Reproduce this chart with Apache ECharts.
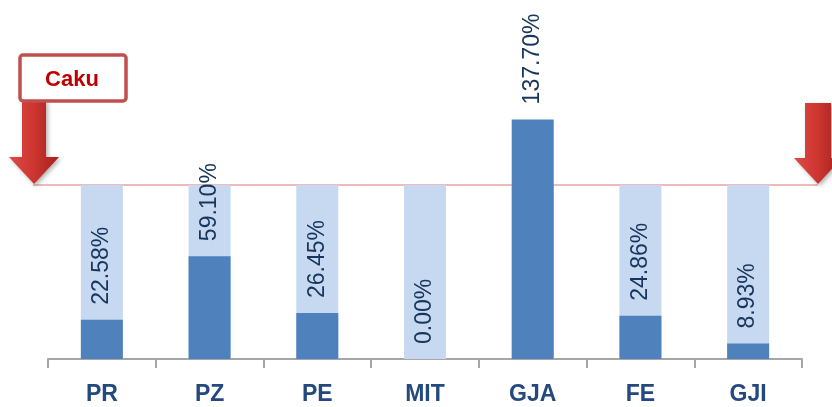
<!DOCTYPE html>
<html>
<head>
<meta charset="utf-8">
<script src="https://cdn.jsdelivr.net/npm/echarts@6/dist/echarts.min.js"></script>
<style>
html,body{margin:0;padding:0;background:#fff;}
#c{width:832px;height:407px;}
</style>
</head>
<body>
<div id="c"></div>
<script>
const categories = ['PR', 'PZ', 'PE', 'MIT', 'GJA', 'FE', 'GJI'];
const values = [22.58, 59.10, 26.45, 0.00, 137.70, 24.86, 8.93];
const targetValues = [100, 100, 100, 100, 100, 100, 100];
const targetLevel = 100;
const targetLabel = 'Caku';

const chart = echarts.init(document.getElementById('c'), null, {renderer: 'canvas'});
const FONT = 'Liberation Sans';

const option = {
  animation: false,
  grid: {left: 48, right: 30, top: 11, bottom: 48, containLabel: false},
  xAxis: {
    type: 'category',
    data: categories,
    axisLine: {show: true, lineStyle: {color: '#a6a6a6', width: 2}},
    axisTick: {show: true, length: 9, alignWithLabel: false, lineStyle: {color: '#a6a6a6', width: 2}},
    axisLabel: {color: '#23497e', fontFamily: FONT, fontWeight: 'bold', fontSize: 23, margin: 24}
  },
  yAxis: {type: 'value', min: 0, max: 200, show: false, splitLine: {show: false}},
  series: [
    {
      type: 'bar',
      data: targetValues,
      barWidth: 42,
      barGap: '-100%',
      itemStyle: {color: '#c6d9f1'},
      silent: true,
      z: 1
    },
    {
      type: 'bar',
      data: values,
      barWidth: 42,
      itemStyle: {color: '#4f81bd'},
      z: 2,
      label: {
        show: true,
        position: 'top',
        rotate: 90,
        align: 'left',
        verticalAlign: 'middle',
        distance: 15,
        color: '#17365d',
        fontFamily: FONT,
        fontSize: 23,
        formatter: p => p.value.toFixed(2) + '%'
      }
    }
  ]
};
chart.setOption(option);

const yT = chart.convertToPixel({yAxisIndex: 0}, targetLevel);
function arrow(cx, shaftTop, tipY, shaftW, headW, headH) {
  const hs = shaftW / 2, hh = headW / 2;
  return [
    [cx - hs, shaftTop], [cx + hs, shaftTop], [cx + hs, tipY - headH],
    [cx + hh, tipY - headH], [cx, tipY], [cx - hh, tipY - headH], [cx - hs, tipY - headH]
  ];
}
const grad = new echarts.graphic.LinearGradient(0, 0, 1, 0, [
  {offset: 0, color: '#e04a45'},
  {offset: 0.5, color: '#cc3530'},
  {offset: 1, color: '#a3201d'}
]);
chart.setOption({
  graphic: [
    {type: 'line', shape: {x1: 33, y1: yT, x2: 818, y2: yT}, style: {stroke: '#e8a3a3', lineWidth: 1.5}, z: 0},
    {type: 'polygon', shape: {points: arrow(34, 100, yT - 1, 24, 50, 27)},
      style: {fill: grad, shadowBlur: 4, shadowColor: 'rgba(0,0,0,0.3)', shadowOffsetX: 2, shadowOffsetY: 2}, z: 10},
    {type: 'polygon', shape: {points: arrow(818, 103, yT - 1, 26, 48, 26)},
      style: {fill: grad, shadowBlur: 4, shadowColor: 'rgba(0,0,0,0.3)', shadowOffsetX: 2, shadowOffsetY: 2}, z: 10},
    {type: 'rect', shape: {x: 20, y: 55, width: 106, height: 46, r: 3},
      style: {fill: '#ffffff', stroke: '#c0504d', lineWidth: 3.5}, z: 11},
    {type: 'text', x: 72, y: 80, style: {text: targetLabel, fill: '#c00000', font: 'bold 22px "Liberation Sans"', align: 'center', verticalAlign: 'middle'}, z: 12}
  ]
});
</script>
</body>
</html>
